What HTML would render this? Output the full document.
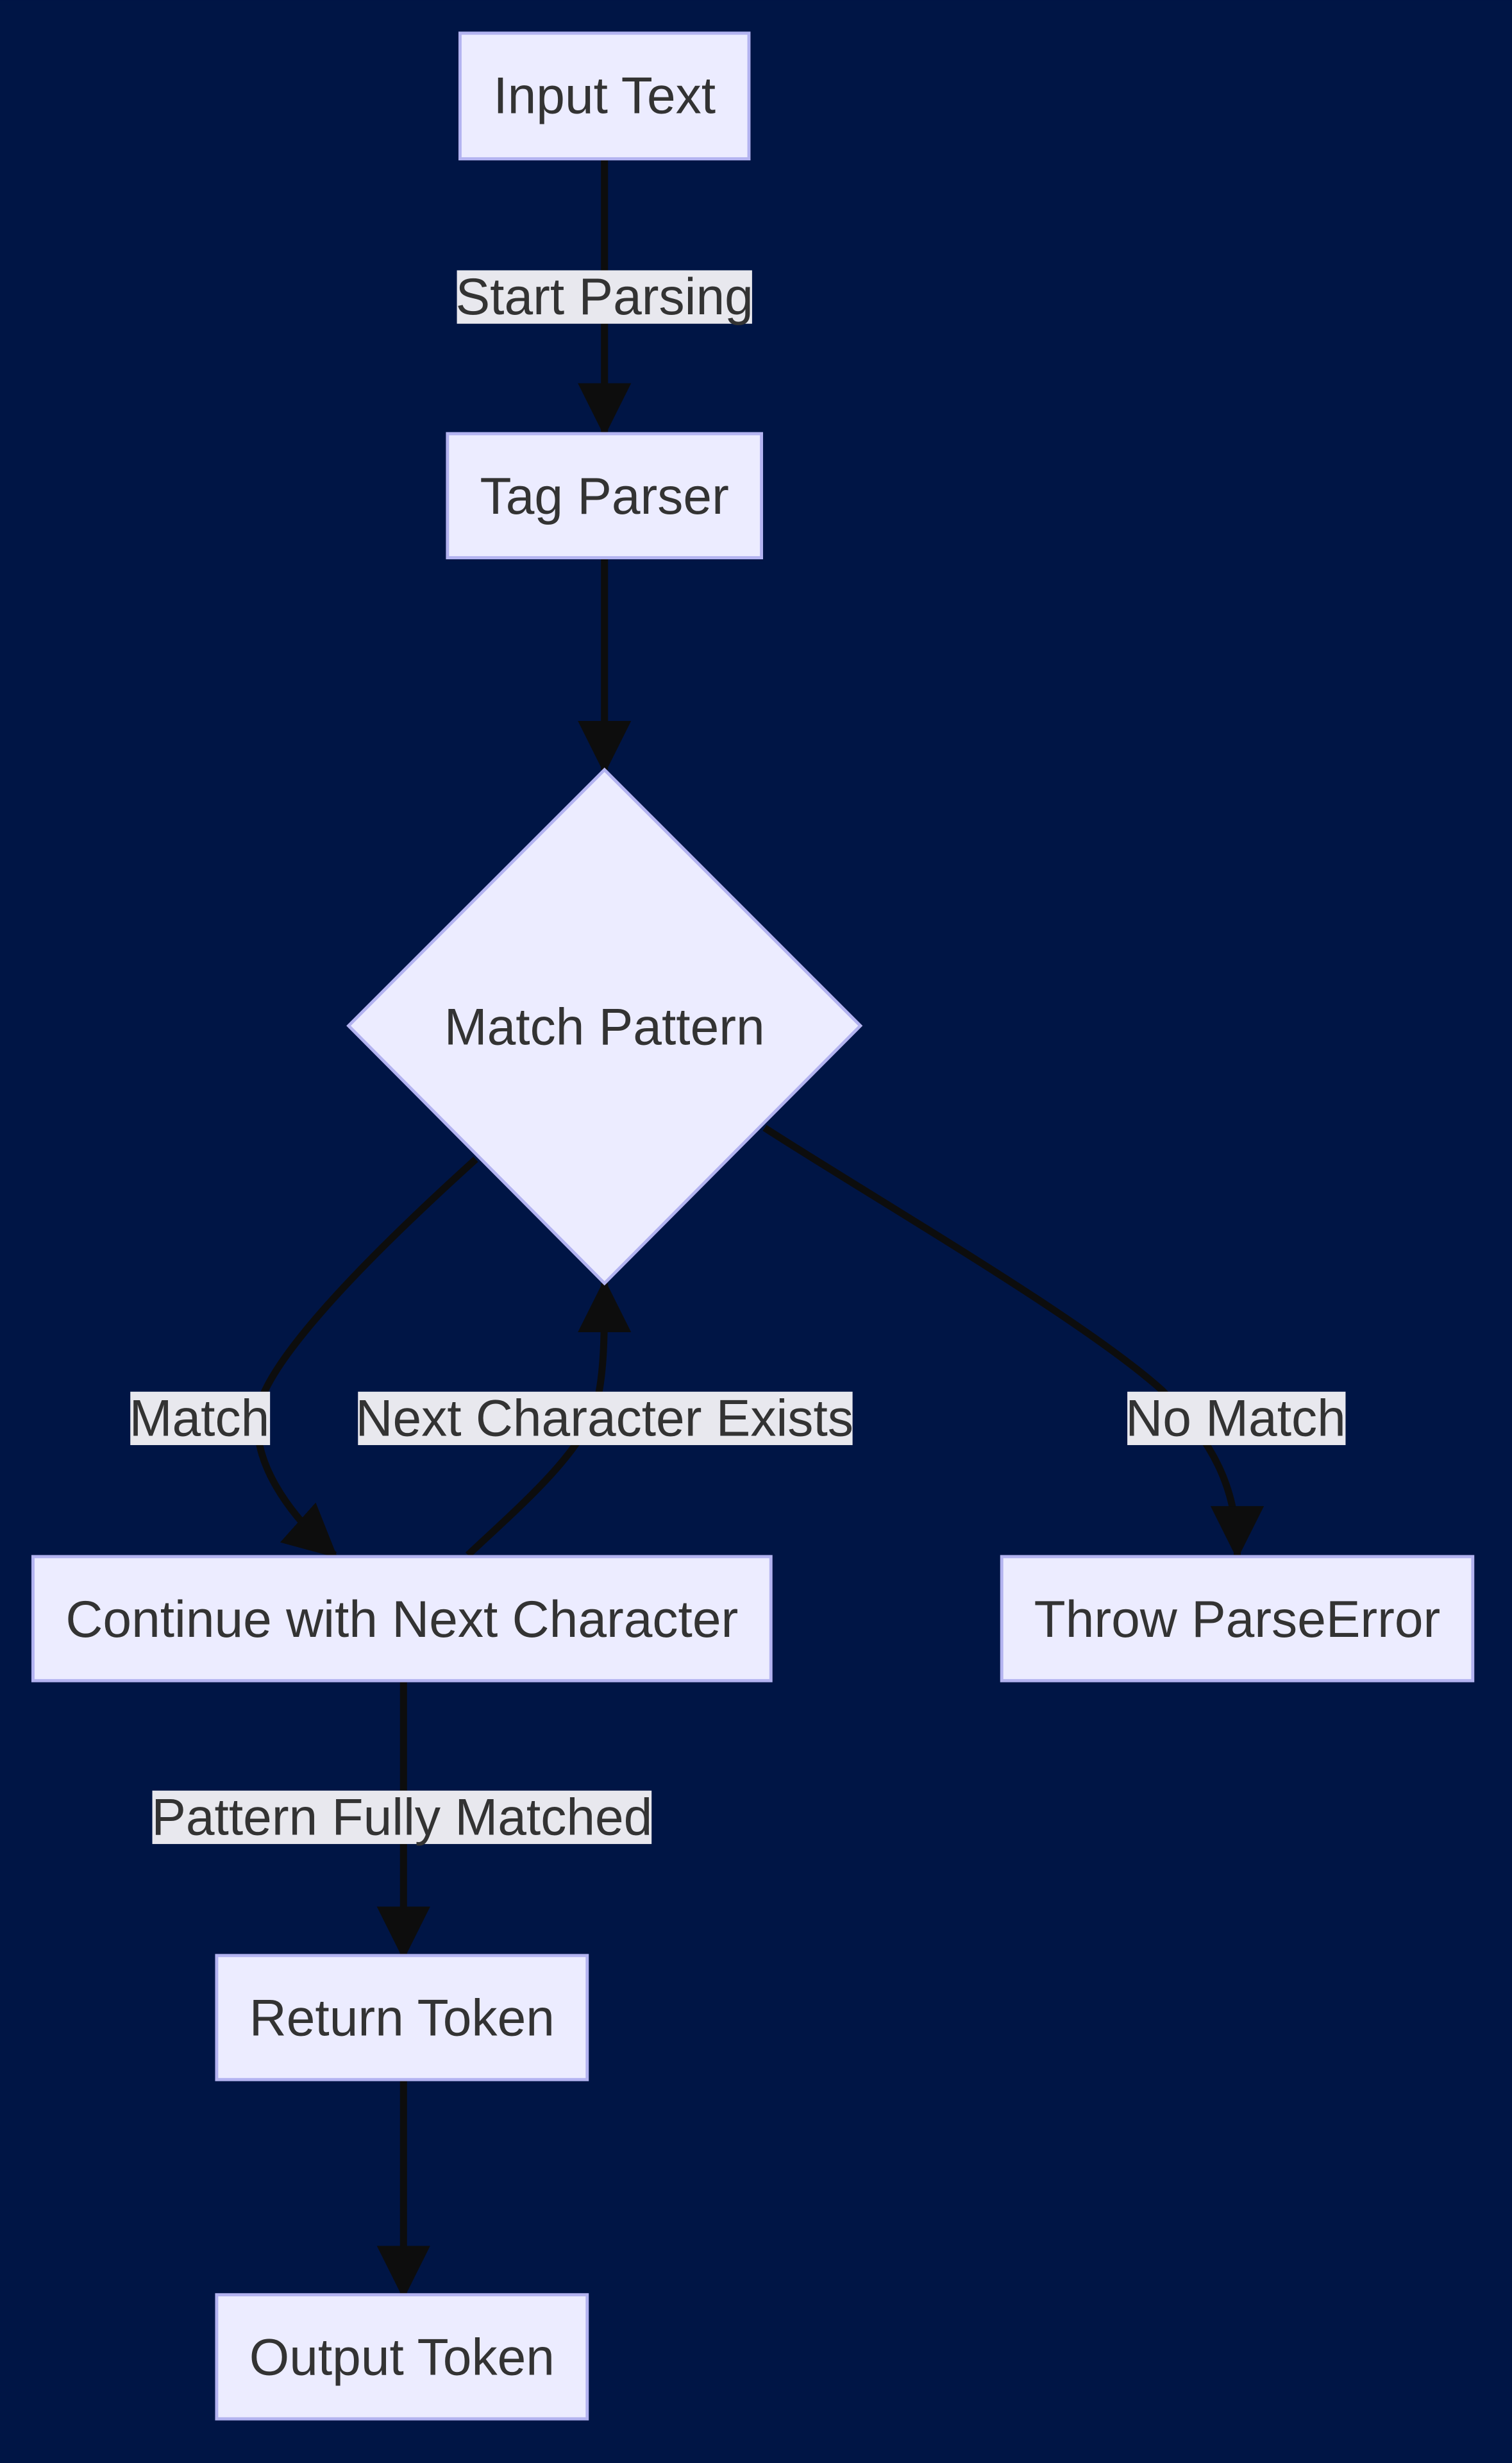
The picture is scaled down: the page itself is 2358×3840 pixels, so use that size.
<!DOCTYPE html>
<html><head><meta charset="utf-8"><style>
html,body{margin:0;padding:0;background:#001545;}
svg{display:block}
text{font-family:"Liberation Sans",Arial,sans-serif;fill:#333;font-size:32.8px;text-anchor:middle;dominant-baseline:central}
</style></head><body>
<svg width="2358" height="3840" viewBox="0 0 963 1568" xmlns="http://www.w3.org/2000/svg">
<defs>
<marker id="b" viewBox="0 0 12 12" refX="11" refY="6" markerWidth="34" markerHeight="34" orient="auto" markerUnits="userSpaceOnUse"><path d="M0,0L12,6L0,12z" fill="#0d0d0d"/></marker></defs>
<rect width="963" height="1568" fill="#001545"/>
<g fill="none" stroke="#0d0d0d" stroke-width="4.5">
<path d="M385,101V275" marker-end="url(#b)"/>
<path d="M385,355V490" marker-end="url(#b)"/>
<path d="M303,738C240,795 175,860 165,895C158,930 185,965 213,990" marker-end="url(#b)"/>
<path d="M298,990C330,960 365,930 378,900C385,880 385,850 385,817" marker-end="url(#b)"/>
<path d="M487,718C560,765 690,840 740,885C775,920 788,950 788,990" marker-end="url(#b)"/>
<path d="M257,1070V1245" marker-end="url(#b)"/>
<path d="M257,1324V1461" marker-end="url(#b)"/>
</g>
<g fill="#ececff" stroke="#b3b3f0" stroke-width="2">
<rect x="293" y="21" width="184" height="80"/>
<rect x="285" y="276" width="200" height="79"/>
<polygon points="385,490 548,653 385,817 222,653"/>
<rect x="21" y="991" width="470" height="79"/>
<rect x="638" y="991" width="300" height="79"/>
<rect x="138" y="1245" width="236" height="79"/>
<rect x="138" y="1461" width="236" height="79"/>
</g>
<g fill="#e8e8ee">
<rect x="291" y="172" width="188" height="34"/>
<rect x="83" y="886" width="89" height="34"/>
<rect x="228" y="886" width="315" height="34"/>
<rect x="718" y="886" width="139" height="34"/>
<rect x="97" y="1140" width="318" height="34"/>
</g>
<text x="385" y="61">Input Text</text>
<text x="385" y="189">Start Parsing</text>
<text x="385" y="316">Tag Parser</text>
<text x="385" y="654">Match Pattern</text>
<text x="127" y="903">Match</text>
<text x="385" y="903">Next Character Exists</text>
<text x="787" y="903">No Match</text>
<text x="256" y="1031">Continue with Next Character</text>
<text x="788" y="1031">Throw ParseError</text>
<text x="256" y="1157">Pattern Fully Matched</text>
<text x="256" y="1285">Return Token</text>
<text x="256" y="1501">Output Token</text>
</svg>
</body></html>
